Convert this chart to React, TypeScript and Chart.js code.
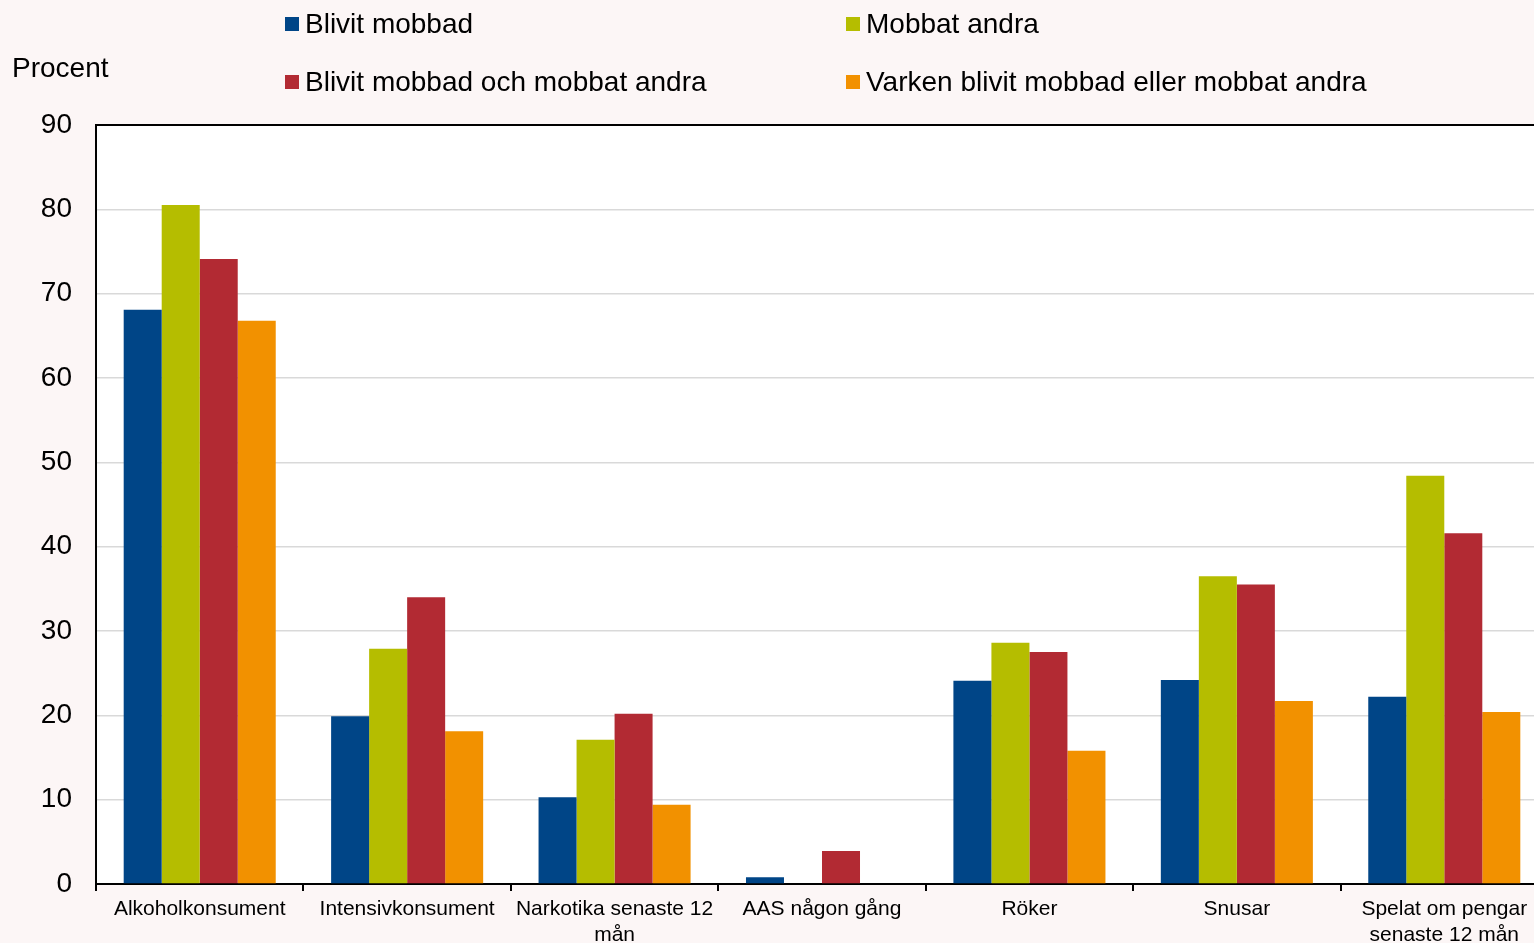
import React, { useEffect, useRef } from 'react';
import { Chart, registerables } from 'chart.js';
Chart.register(...registerables);

const categories: (string | string[])[] = [
  'Alkoholkonsument',
  'Intensivkonsument',
  ['Narkotika senaste 12', 'mån'],
  'AAS någon gång',
  'Röker',
  'Snusar',
  ['Spelat om pengar', 'senaste 12 mån'],
];
const seriesNames = [
  'Blivit mobbad',
  'Mobbat andra',
  'Blivit mobbad och mobbat andra',
  'Varken blivit mobbad eller mobbat andra',
];
const blivitMobbad = [68.1, 19.9, 10.3, 0.8, 24.1, 24.2, 22.2];
const mobbatAndra = [80.5, 27.9, 17.1, 0, 28.6, 36.5, 48.4];
const blivitOchMobbat = [74.1, 34.0, 20.2, 3.9, 27.5, 35.5, 41.6];
const varken = [66.8, 18.1, 9.4, 0, 15.8, 21.7, 20.4];
const seriesColors = ['#004587', '#b5bd00', '#b22a33', '#f29100'];
const yTicks = [0, 10, 20, 30, 40, 50, 60, 70, 80, 90];
const yTitle = 'Procent';

const FONT = '"Liberation Sans", Arial, sans-serif';
const BG = '#fcf6f6';
const CANVAS_W = 1548;

const decorPlugin = {
  id: 'decor',
  beforeDraw(chart: any) {
    const { ctx, chartArea } = chart;
    ctx.save();
    ctx.fillStyle = BG;
    ctx.fillRect(0, 0, chart.width, chart.height);
    ctx.fillStyle = '#ffffff';
    ctx.fillRect(chartArea.left, chartArea.top, chartArea.right - chartArea.left, chartArea.bottom - chartArea.top);
    ctx.restore();
  },
  afterDraw(chart: any) {
    const { ctx } = chart;
    ctx.save();
    ctx.font = `28px ${FONT}`;
    ctx.textBaseline = 'middle';
    ctx.fillStyle = '#000';
    ctx.fillText(yTitle, 12, 69);
    const pos = [
      { x: 285, y: 25 },
      { x: 846, y: 25 },
      { x: 285, y: 83 },
      { x: 846, y: 83 },
    ];
    seriesNames.forEach((name, i) => {
      const p = pos[i];
      ctx.fillStyle = seriesColors[i];
      ctx.fillRect(p.x, p.y - 8, 14, 14);
      ctx.fillStyle = '#000';
      ctx.fillText(name, p.x + 20, p.y);
    });
    ctx.restore();
  },
};

export default function App() {
  const ref = useRef<HTMLCanvasElement>(null);
  useEffect(() => {
    if (!ref.current) return;
    const data = [blivitMobbad, mobbatAndra, blivitOchMobbat, varken];
    const chart = new Chart(ref.current, {
      type: 'bar',
      data: {
        labels: categories,
        datasets: seriesNames.map((n, i) => ({
          label: n,
          data: data[i],
          backgroundColor: seriesColors[i],
          borderWidth: 0,
          categoryPercentage: 0.733,
          barPercentage: 1,
        })),
      },
      plugins: [decorPlugin],
      options: {
        responsive: false,
        animation: false,
        layout: { padding: { top: 125, right: 0, left: 0, bottom: 0 } },
        plugins: { legend: { display: false }, tooltip: { enabled: false } },
        scales: {
          x: {
            grid: {
              display: true,
              drawOnChartArea: false,
              drawTicks: true,
              tickLength: 7,
              color: '#000',
              lineWidth: 2,
              offset: true,
            },
            border: { display: true, color: '#000', width: 2 },
            ticks: {
              color: '#000',
              font: { family: FONT, size: 21, lineHeight: 1.2 },
              padding: 6,
              maxRotation: 0,
              autoSkip: false,
            },
            afterFit: (s: any) => { s.height = 59; },
          },
          y: {
            min: 0,
            max: 90,
            afterBuildTicks: (s: any) => { s.ticks = yTicks.map((v) => ({ value: v })); },
            grid: {
              drawTicks: false,
              color: (c: any) => (c.tick && c.tick.value === 90 ? '#000' : '#d9d9d9'),
              lineWidth: (c: any) => (c.tick && c.tick.value === 90 ? 2 : 1.5),
            },
            border: { display: true, color: '#000', width: 2 },
            ticks: {
              color: '#000',
              font: { family: FONT, size: 28 },
              padding: 24,
            },
            afterFit: (s: any) => { s.width = 96; },
          },
        },
      },
    });
    return () => chart.destroy();
  }, []);
  return (
    <div style={{ position: 'fixed', left: 0, top: 0, width: 1534, height: 943, overflow: 'hidden', background: BG }}>
      <canvas ref={ref} width={CANVAS_W} height={943} style={{ display: 'block' }} />
    </div>
  );
}
